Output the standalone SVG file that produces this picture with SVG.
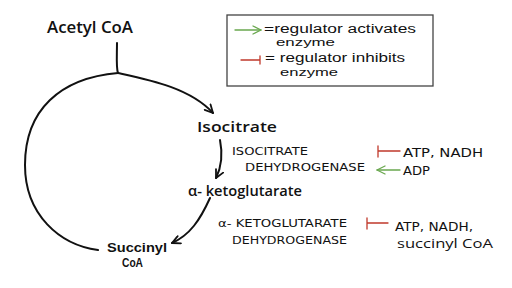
<svg xmlns="http://www.w3.org/2000/svg" width="512" height="288" viewBox="0 0 512 288">
  <style>
    .lbl { font-family: "Open Sans", "DejaVu Sans", sans-serif; font-weight: 600; fill: #111; }
    .lbl2 { font-family: "Liberation Sans", "Arimo", sans-serif; font-weight: 700; fill: #111; }
    .sm { font-family: "DejaVu Sans", "Liberation Sans", sans-serif; font-weight: 400; fill: #111; }
    .hand { font-family: "Open Sans", "DejaVu Sans", sans-serif; font-weight: 400; fill: #111; }
    .leg { font-family: "Liberation Sans", "Arimo", sans-serif; font-weight: 400; fill: #111; }
    .blk { fill: none; stroke: #111; stroke-width: 2; stroke-linecap: round; }
    .grn { fill: none; stroke: #6aa84f; stroke-width: 1.3; stroke-linecap: round; }
    .red { fill: none; stroke: #c0392b; stroke-width: 1.3; stroke-linecap: round; }
  </style>
  <defs>
    <marker id="ab" viewBox="0 0 10 10" refX="9" refY="5" markerWidth="10" markerHeight="10" markerUnits="userSpaceOnUse" orient="auto">
      <path d="M1,1 L9,5 L1,9" fill="none" stroke="#111" stroke-width="1.8" stroke-linecap="round" stroke-linejoin="round"/>
    </marker>
    <marker id="ag" viewBox="0 0 10 10" refX="9" refY="5" markerWidth="10" markerHeight="10" markerUnits="userSpaceOnUse" orient="auto">
      <path d="M1,1 L9,5 L1,9" fill="none" stroke="#6aa84f" stroke-width="1.3" stroke-linecap="round" stroke-linejoin="round"/>
    </marker>
  </defs>
  <rect width="512" height="288" fill="#fff"/>

  <g id="legend">
    <rect x="227" y="15" width="206" height="71" fill="#fff" stroke="#444" stroke-width="1.3"/>
    <path class="grn" d="M235,30 L261,30" marker-end="url(#ag)"/>
    <text class="leg" x="264" y="33" font-size="12" textLength="152" lengthAdjust="spacingAndGlyphs">=regulator activates</text>
    <text class="leg" x="276" y="46" font-size="11" textLength="59" lengthAdjust="spacingAndGlyphs">enzyme</text>
    <path class="red" d="M241,60 L260,60 M260,56 L260,64"/>
    <text class="leg" x="265" y="62" font-size="12" textLength="140" lengthAdjust="spacingAndGlyphs">= regulator inhibits</text>
    <text class="leg" x="280" y="76" font-size="11" textLength="58" lengthAdjust="spacingAndGlyphs">enzyme</text>
  </g>

  <g id="connectors">
    <path class="blk" d="M117,43 C117,55 116,68 118,73"/>
    <path class="blk" d="M118,73 C60,78 25,110 25,165 C25,215 60,245 98,250"/>
    <path class="blk" d="M118,73 C150,80 190,88 213,113" marker-end="url(#ab)"/>
    <path class="blk" d="M220,140 C223,155 221,168 216,178" marker-end="url(#ab)"/>
    <path class="blk" d="M210,198 C200,220 190,235 172,243" marker-end="url(#ab)"/>
  </g>

  <g id="acetyl-coa">
    <text class="lbl" x="47" y="33" font-size="16" textLength="86" lengthAdjust="spacingAndGlyphs">Acetyl CoA</text>
  </g>
  <g id="isocitrate">
    <text class="lbl" x="197" y="132" font-size="15" textLength="80" lengthAdjust="spacingAndGlyphs">Isocitrate</text>
  </g>
  <g id="alpha-ketoglutarate">
    <text class="lbl" x="188" y="196" font-size="15" textLength="114" lengthAdjust="spacingAndGlyphs">α- ketoglutarate</text>
  </g>
  <g id="succinyl-coa">
    <text class="lbl2" x="107" y="252" font-size="12.5" textLength="60" lengthAdjust="spacingAndGlyphs">Succinyl</text>
    <text class="lbl2" x="122" y="267" font-size="12.5" textLength="21" lengthAdjust="spacingAndGlyphs">CoA</text>
  </g>

  <g id="isocitrate-dehydrogenase">
    <text class="sm" x="232" y="155" font-size="11" textLength="76" lengthAdjust="spacingAndGlyphs">ISOCITRATE</text>
    <text class="sm" x="245" y="171" font-size="11" textLength="120" lengthAdjust="spacingAndGlyphs">DEHYDROGENASE</text>
    <path class="red" d="M400,151 L378,151 M378,146 L378,157"/>
    <path class="grn" d="M400,170 L377,170" marker-end="url(#ag)"/>
    <text class="sm" x="403" y="157" font-size="12" textLength="80" lengthAdjust="spacingAndGlyphs">ATP, NADH</text>
    <text class="sm" x="403" y="175" font-size="12" textLength="27" lengthAdjust="spacingAndGlyphs">ADP</text>
  </g>

  <g id="ketoglutarate-dehydrogenase">
    <text class="sm" x="218" y="227" font-size="11" textLength="129" lengthAdjust="spacingAndGlyphs">α- KETOGLUTARATE</text>
    <text class="sm" x="232" y="244" font-size="11" textLength="115" lengthAdjust="spacingAndGlyphs">DEHYDROGENASE</text>
    <path class="red" d="M388,223 L367,223 M367,218 L367,229"/>
    <text class="sm" x="395" y="231" font-size="12" textLength="78" lengthAdjust="spacingAndGlyphs">ATP, NADH,</text>
    <text class="hand" x="397" y="248" font-size="13" textLength="96" lengthAdjust="spacingAndGlyphs">succinyl CoA</text>
  </g>
</svg>
